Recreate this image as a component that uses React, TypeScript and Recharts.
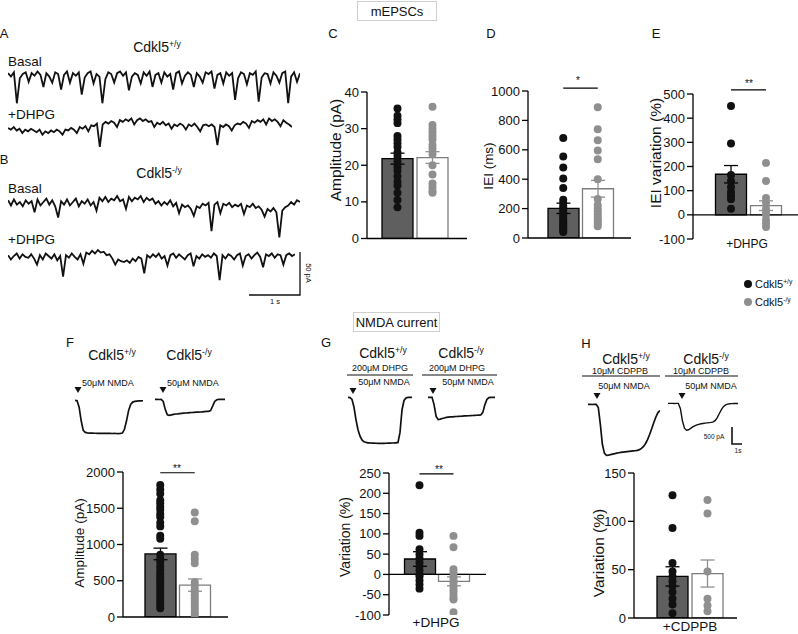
import React from 'react';
import {
  ComposedChart, Bar, ErrorBar, Scatter, XAxis, YAxis, ZAxis, ReferenceLine, LineChart, Line,
} from 'recharts';

const FONT = '"Liberation Sans", Arial, Helvetica, sans-serif';
const DARK_BAR = '#5f5f5f';
const BLACK_DOT = '#111111';
const GREY_DOT = '#8f8f8f';
const WHITE_EDGE = '#7d7d7d';

// ---- panel C: mEPSC amplitude (pA)
const ampWt = [35.5, 33.5, 32.5, 31.5, 28, 27, 26, 25, 23.5, 22.5, 21, 19.5, 18.5, 17, 15.5, 14.5, 12.5, 10.5, 8.5];
const ampKo = [36, 31, 30, 29, 28, 27, 25.5, 24.5, 23, 20, 17.5, 15, 14, 13, 12.5];
const ampMean = [21.8, 22.1];
const ampSem = [1.5, 1.6];
const ampTicks = [0, 10, 20, 30, 40];

// ---- panel D: IEI (ms)
const ieiWt = [680, 555, 480, 405, 340, 260, 240, 220, 205, 190, 175, 160, 145, 130, 115, 100, 90, 80, 70, 60, 50, 40];
const ieiKo = [890, 740, 665, 595, 535, 400, 265, 225, 200, 180, 160, 140, 125, 110, 95, 80];
const ieiMean = [202, 335];
const ieiSem = [35, 57];
const ieiTicks = [0, 200, 400, 600, 800, 1000];

// ---- panel E: IEI variation (%) +DHPG
const ieiVarWt = [450, 295, 165, 140, 115, 95, 80, 65, 25];
const ieiVarKo = [215, 140, 70, 50, 25, 10, 0, -20, -35, -50];
const ieiVarMean = [168, 38];
const ieiVarSem = [36, 20];
const ieiVarTicks = [-100, 0, 100, 200, 300, 400, 500];

// ---- panel F: NMDA amplitude (pA)
const nmdaWt = [1820, 1760, 1700, 1610, 1570, 1520, 1480, 1420, 1380, 1300, 1250, 1120, 1080, 860, 800, 760, 700, 650, 600, 560, 520, 480, 440, 400, 360, 320, 280, 240, 200, 160, 120];
const nmdaKo = [1440, 1320, 860, 800, 740, 480, 430, 380, 340, 300, 260, 220, 180, 140, 100, 60, 30];
const nmdaMean = [870, 440];
const nmdaSem = [80, 85];
const nmdaTicks = [0, 500, 1000, 1500, 2000];

// ---- panel G: variation (%) +DHPG
const dhpgWt = [220, 103, 95, 62, 50, 40, 30, 20, 10, 0, -5, -15, -25, -35];
const dhpgKo = [95, 67, 13, 5, -5, -13, -20, -27, -35, -42, -50, -58, -62, -93];
const dhpgMean = [38, -17];
const dhpgSem = [18, 11];
const dhpgTicks = [-100, -50, 0, 50, 100, 150, 200, 250];

// ---- panel H: variation (%) +CDPPB
const cdppbWt = [127, 93, 57, 48, 43, 38, 33, 27, 20, 14, 5];
const cdppbKo = [122, 108, 48, 20, 13, 7];
const cdppbMean = [43, 46];
const cdppbSem = [10, 14];
const cdppbTicks = [0, 50, 100, 150];

// ---- example traces (pA, baseline = 0)
const mepscWtBasal = [
  2, -2, 3, -33, -4, 1, 3, -8, 2, -1, 4, 0, -14, 2, -2, -9, 3, 1, -17, 0,
  4, -9, 2, -1, 3, -23, -3, 2, 4, -10, 1, -2, -33, -5, 3, 1, -9, 2, 4, -1,
  3, -18, -2, 2, 0, -10, 3, -1, 4, -14, 0, 2, -9, 3, -2, 1, -17, 2, 4, -10,
  -1, 3, 0, -14, 2, -2, -9, 3, 1, 4, -16, 0, 2, -10, 3, -1, 2, -29, -4, 3,
  1, -11, 2, 0, 4, -31, -3, 2, 1, -10, 3, -1, -9, 2, 4, -33, -2, 3, -8, 2,
];
const mepscWtDhpg = [
  0, -2, 1, -3, -1, -6, -2, -4, -1, -3, -5, -2, -8, -4, -6, -3, -5, -2, -4, -8,
  -2, -3, 0, -2, -6, 1, -1, 2, -4, 3, 2, 5, -22, 4, 7, 5, 8, 6, 1, 9,
  7, 10, 8, 11, 4, 9, 11, 8, 10, 7, 8, 1, 6, 4, 7, 3, 5, -1, 4, 2,
  5, 3, -2, 4, 2, 5, 1, -4, 3, 4, 2, 4, 1, -20, 3, 1, 4, 2, -3, 3,
  5, 4, 7, 5, 0, 8, 6, 9, 7, 10, 4, 11, 8, 10, 7, 2, 9, 6, 4, 1,
];
const mepscKoBasal = [
  3, -3, 4, -2, 1, -4, 3, -1, 2, -11, 4, -3, 1, 5, -2, 3, -4, -17, 2, -2,
  4, -3, 1, 5, -4, 2, -1, 4, -3, 1, -9, 6, 2, 7, 1, 5, 3, 8, 2, 4,
  -7, 7, 2, 6, 4, 8, 1, 6, 3, 5, -1, 2, -3, 1, -2, 3, -4, 0, -12, -2,
  -5, -3, -7, -15, -4, -6, -1, -3, 0, -33, -2, 1, -12, -1, -3, 0, -5, -2, -4, -1,
  -13, -3, -5, -1, -6, -4, -8, -16, -7, -10, -6, -11, -40, -9, -5, -3, 1, -2, 3, 1,
];
const mepscKoDhpg = [
  2, -3, 1, 4, -2, 3, 0, -1, 3, -2, -9, 2, -3, 4, 1, -2, 3, -4, 1, -23,
  2, -1, 4, 0, -3, 3, -8, 5, 3, 7, 4, 8, 5, 6, 2, 3, -2, -9, -3, -5,
  -6, -4, -7, -2, -5, 0, -2, -19, 2, -1, 3, 0, 4, -2, 1, -10, 2, 4, -1, 3,
  0, -3, 2, 4, -11, 1, -2, 3, 0, 2, -1, 4, 1, -27, 2, -2, 3, 1, -3, 2,
  4, -10, 1, 3, -2, 2, 5, 0, -12, 3, 1, 4, -1, 3, 2, -9, 2, 4, 1, 3,
];
const nmdaTraceWt = [0, -10, -200, -600, -880, -940, -955, -960, -962, -965, -966, -968, -967, -969, -970, -970, -972, -971, -973, -972, -974, -975, -972, -960, -850, -600, -300, -120, -50, -30, -20, -15, -12, -10];
const nmdaTraceKo = [0, 5, -3, 0, -60, -300, -450, -470, -455, -440, -430, -425, -418, -410, -405, -400, -395, -390, -385, -380, -375, -372, -370, -365, -360, -355, -350, -330, -200, -60, -10, 0, 3, 0, 2];
const dhpgTraceWt = [0, -5, -60, -290, -660, -950, -1140, -1250, -1305, -1325, -1335, -1340, -1343, -1345, -1348, -1350, -1349, -1351, -1350, -1348, -1347, -1345, -1342, -1340, -1336, -1325, -1030, -370, -90, -15, 0, 5, 0];
const dhpgTraceKo = [0, 4, 0, -220, -560, -650, -640, -620, -605, -590, -582, -575, -570, -566, -562, -558, -555, -550, -546, -543, -540, -536, -532, -528, -525, -520, -515, -440, -220, -60, -8, 0, 5, 3];
const cdppbTraceWt = [0, 3, -3, 0, 2, -90, -590, -1180, -1440, -1500, -1490, -1475, -1462, -1450, -1435, -1423, -1412, -1405, -1397, -1390, -1382, -1375, -1367, -1360, -1350, -1330, -1295, -1235, -1150, -1030, -880, -710, -530, -370, -240, -180];
const cdppbTraceKo = [0, 2, 0, -2, 0, 0, -150, -510, -730, -790, -775, -735, -690, -660, -630, -615, -600, -590, -580, -572, -565, -558, -545, -500, -410, -290, -175, -90, -45, -22, -12, -7, -4, -3, -2];

const AXIS_W = 44;
const M_TOP = 12;
const M_BOT = 12;
const M_RIGHT = 3;

type PanelProps = {
  x0: number; x1: number; yTop: number; yBot: number;
  domain: [number, number]; ticks: number[];
  padL: number; padR: number;
  wt: number[]; ko: number[]; mean: number[]; sem: number[];
  sigAt?: number;
};

function DotBarPanel(p: PanelProps) {
  const rows = [
    { group: 'wt', wt: p.mean[0], ko: 0, wtErr: p.sem[0] },
    { group: 'ko', wt: 0, ko: p.mean[1], koErr: p.sem[1] },
  ];
  const wtPts = p.wt.map((v) => ({ group: 'wt', v }));
  const koPts = p.ko.map((v) => ({ group: 'ko', v }));
  const width = p.x1 - p.x0 + AXIS_W + M_RIGHT;
  const height = p.yBot - p.yTop + M_TOP + M_BOT;
  return (
    <div style={{ position: 'absolute', left: p.x0 - AXIS_W, top: p.yTop - M_TOP }}>
      <ComposedChart width={width} height={height} data={rows}
        margin={{ top: M_TOP, right: M_RIGHT, bottom: M_BOT, left: 0 }}>
        <XAxis dataKey="group" type="category" hide allowDuplicatedCategory={false}
          padding={{ left: p.padL, right: p.padR }} />
        <YAxis type="number" width={AXIS_W} domain={p.domain} ticks={p.ticks} interval={0}
          allowDataOverflow tickSize={6} tickMargin={2}
          axisLine={{ stroke: '#000', strokeWidth: 1.3 }} tickLine={{ stroke: '#000', strokeWidth: 1.3 }}
          tick={{ fontSize: 13, fill: '#111', fontFamily: FONT }} />
        <ZAxis range={[50, 50]} />
        <Bar dataKey="wt" stackId="m" barSize={31} fill={DARK_BAR} stroke="#000" strokeWidth={1.3}
          isAnimationActive={false}>
          <ErrorBar dataKey="wtErr" width={7} stroke="#000" strokeWidth={1.3} />
        </Bar>
        <Bar dataKey="ko" stackId="m" barSize={31} fill="#fff" stroke={WHITE_EDGE} strokeWidth={1.3}
          isAnimationActive={false}>
          <ErrorBar dataKey="koErr" width={7} stroke={GREY_DOT} strokeWidth={1.3} />
        </Bar>
        <Scatter data={wtPts} dataKey="v" fill={BLACK_DOT} isAnimationActive={false} />
        <Scatter data={koPts} dataKey="v" fill={GREY_DOT} isAnimationActive={false} />
        <ReferenceLine y={0} stroke="#000" strokeWidth={1.3} />
        {p.sigAt !== undefined && (
          <ReferenceLine segment={[{ x: 'wt', y: p.sigAt }, { x: 'ko', y: p.sigAt }]}
            stroke="#000" strokeWidth={1.2} ifOverflow="visible" />
        )}
      </ComposedChart>
    </div>
  );
}

type TraceProps = {
  values: number[]; x0: number; x1: number; base: number;
  pxPerUnit: number; lo: number; hi: number; sw?: number;
};

function Trace({ values, x0, x1, base, pxPerUnit, lo, hi, sw = 1.4 }: TraceProps) {
  const data = values.map((v, i) => ({ i, v }));
  return (
    <div style={{ position: 'absolute', left: x0, top: base - hi * pxPerUnit }}>
      <LineChart width={x1 - x0} height={(hi - lo) * pxPerUnit} data={data}
        margin={{ top: 0, right: 0, bottom: 0, left: 0 }}>
        <XAxis dataKey="i" type="number" domain={[0, values.length - 1]} allowDataOverflow hide />
        <YAxis type="number" domain={[lo, hi]} allowDataOverflow hide />
        <Line dataKey="v" type="linear" stroke="#111" strokeWidth={sw} strokeLinejoin="miter"
          dot={false} isAnimationActive={false} />
      </LineChart>
    </div>
  );
}

type TxtProps = {
  x: number; y: number; size?: number; anchor?: 'start' | 'middle' | 'end';
  rotate?: number; children: React.ReactNode; color?: string;
};

function Txt({ x, y, size = 13, anchor = 'middle', rotate, children, color = '#111' }: TxtProps) {
  const tx = anchor === 'middle' ? -50 : anchor === 'end' ? -100 : 0;
  return (
    <div style={{
      position: 'absolute', left: x, top: y, fontSize: size, lineHeight: 1, color,
      whiteSpace: 'nowrap', transform: `translate(${tx}%, -50%)${rotate ? ` rotate(${rotate}deg)` : ''}`,
    }}>{children}</div>
  );
}

const Geno = ({ s }: { s: string }) => (
  <span>Cdkl5<span style={{ fontSize: '0.62em', verticalAlign: '0.55em', lineHeight: 0 }}>{s}</span></span>
);

const MEPSC_PX = 0.86; // px per pA (50 pA scale bar)
const NMDA_PX = 0.034; // px per pA (500 pA scale bar)

export default function App() {
  const tri = [[78, 390], [163, 390], [353, 391], [433, 391], [597, 396], [682, 396]];
  return (
    <div style={{
      position: 'absolute', left: 0, top: 0, width: 798, height: 634, overflow: 'hidden',
      background: '#fff', fontFamily: FONT, color: '#111',
    }}>
      {/* traces */}
      <Trace values={mepscWtBasal} x0={8} x1={300} base={75} pxPerUnit={MEPSC_PX} lo={-45} hi={15} sw={1.8} />
      <Trace values={mepscWtDhpg} x0={8} x1={292} base={128} pxPerUnit={MEPSC_PX} lo={-45} hi={15} sw={1.8} />
      <Trace values={mepscKoBasal} x0={8} x1={300} base={203} pxPerUnit={MEPSC_PX} lo={-45} hi={15} sw={1.8} />
      <Trace values={mepscKoDhpg} x0={8} x1={295} base={257} pxPerUnit={MEPSC_PX} lo={-45} hi={15} sw={1.8} />
      <Trace values={nmdaTraceWt} x0={75} x1={143} base={400} pxPerUnit={NMDA_PX} lo={-1600} hi={100} sw={1.7} />
      <Trace values={nmdaTraceKo} x0={155} x1={225} base={399} pxPerUnit={NMDA_PX} lo={-1600} hi={100} sw={1.7} />
      <Trace values={dhpgTraceWt} x0={348} x1={412} base={397} pxPerUnit={NMDA_PX} lo={-1600} hi={100} sw={1.7} />
      <Trace values={dhpgTraceKo} x0={428} x1={495} base={397} pxPerUnit={NMDA_PX} lo={-1600} hi={100} sw={1.7} />
      <Trace values={cdppbTraceWt} x0={588} x1={660} base={404} pxPerUnit={NMDA_PX} lo={-1600} hi={100} sw={1.7} />
      <Trace values={cdppbTraceKo} x0={668} x1={738} base={403} pxPerUnit={NMDA_PX} lo={-1600} hi={100} sw={1.4} />

      {/* bar + dot panels */}
      <DotBarPanel x0={367} x1={467} yTop={91.5} yBot={238} domain={[0, 40]} ticks={ampTicks}
        padL={13} padR={17} wt={ampWt} ko={ampKo} mean={ampMean} sem={ampSem} />
      <DotBarPanel x0={528} x1={631} yTop={91} yBot={238} domain={[0, 1000]} ticks={ieiTicks}
        padL={18} padR={16} wt={ieiWt} ko={ieiKo} mean={ieiMean} sem={ieiSem} sigAt={1020} />
      <DotBarPanel x0={693} x1={798} yTop={94} yBot={239} domain={[-100, 500]} ticks={ieiVarTicks}
        padL={20.5} padR={14.5} wt={ieiVarWt} ko={ieiVarKo} mean={ieiVarMean} sem={ieiVarSem} sigAt={517} />
      <DotBarPanel x0={123} x1={228} yTop={472} yBot={617} domain={[0, 2000]} ticks={nmdaTicks}
        padL={20} padR={16} wt={nmdaWt} ko={nmdaKo} mean={nmdaMean} sem={nmdaSem} sigAt={1990} />
      <DotBarPanel x0={389} x1={486} yTop={473} yBot={615} domain={[-100, 250]} ticks={dhpgTicks}
        padL={13.5} padR={15.5} wt={dhpgWt} ko={dhpgKo} mean={dhpgMean} sem={dhpgSem} sigAt={248} />
      <DotBarPanel x0={634} x1={737} yTop={473} yBot={618} domain={[0, 150]} ticks={cdppbTicks}
        padL={21} padR={12} wt={cdppbWt} ko={cdppbKo} mean={cdppbMean} sem={cdppbSem} />

      {/* annotations */}
      <svg width={798} height={634} style={{ position: 'absolute', left: 0, top: 0, pointerEvents: 'none' }}>
        <path d="M300 252 V295 H249" stroke="#111" strokeWidth={1.3} fill="none" />
        <path d="M732 427 V444 H742" stroke="#111" strokeWidth={1.6} fill="none" />
        <line x1={347} x2={413} y1={375} y2={375} stroke="#111" strokeWidth={1.2} />
        <line x1={422} x2={497} y1={375} y2={375} stroke="#111" strokeWidth={1.2} />
        <line x1={582} x2={660} y1={376} y2={376} stroke="#111" strokeWidth={1.2} />
        <line x1={665} x2={738} y1={376} y2={376} stroke="#111" strokeWidth={1.2} />
        {tri.map(([x, y]) => (
          <path key={`${x}-${y}`} d={`M${x - 3.5} ${y - 3} L${x + 3.5} ${y - 3} L${x} ${y + 3} Z`} fill="#111" />
        ))}
        <circle cx={748} cy={284} r={4} fill={BLACK_DOT} />
        <circle cx={748} cy={302} r={4} fill={GREY_DOT} />
      </svg>

      {/* section boxes */}
      <div style={{
        position: 'absolute', left: 357, top: 1, width: 80, height: 20, border: '1px solid #cfcfcf',
        boxSizing: 'border-box', fontSize: 13, display: 'flex', alignItems: 'center', justifyContent: 'center',
      }}>mEPSCs</div>
      <div style={{
        position: 'absolute', left: 353, top: 312, width: 87, height: 20, border: '1px solid #cfcfcf',
        boxSizing: 'border-box', fontSize: 13, display: 'flex', alignItems: 'center', justifyContent: 'center',
      }}>NMDA current</div>

      {/* panel letters */}
      <Txt x={4} y={33}>A</Txt>
      <Txt x={4} y={159}>B</Txt>
      <Txt x={333} y={33}>C</Txt>
      <Txt x={491} y={33}>D</Txt>
      <Txt x={656} y={33}>E</Txt>
      <Txt x={70} y={342}>F</Txt>
      <Txt x={326} y={342}>G</Txt>
      <Txt x={586} y={343}>H</Txt>

      {/* A / B labels */}
      <Txt x={157} y={47} size={14}><Geno s="+/y" /></Txt>
      <Txt x={159} y={173} size={14}><Geno s="-/y" /></Txt>
      <Txt x={8} y={62} size={13.5} anchor="start">Basal</Txt>
      <Txt x={8} y={115} size={13.5} anchor="start">+DHPG</Txt>
      <Txt x={8} y={189} size={13.5} anchor="start">Basal</Txt>
      <Txt x={8} y={240} size={13.5} anchor="start">+DHPG</Txt>
      <Txt x={275} y={302} size={7.5}>1 s</Txt>
      <Txt x={308} y={273} size={7.5} rotate={90}>50 pA</Txt>

      {/* y labels */}
      <Txt x={336} y={150} size={15.5} rotate={-90}>Amplitude (pA)</Txt>
      <Txt x={489} y={166} size={13.5} rotate={-90}>IEI (ms)</Txt>
      <Txt x={656} y={153} size={15.5} rotate={-90}>IEI variation (%)</Txt>
      <Txt x={80} y={543} size={13.5} rotate={-90}>Amplitude (pA)</Txt>
      <Txt x={345} y={537} size={14} rotate={-90}>Variation (%)</Txt>
      <Txt x={599} y={553} size={15.5} rotate={-90}>Variation (%)</Txt>

      {/* significance */}
      <Txt x={578} y={81} size={10}>*</Txt>
      <Txt x={749} y={84} size={10}>**</Txt>
      <Txt x={177} y={469} size={10}>**</Txt>
      <Txt x={439} y={470} size={10}>**</Txt>

      {/* treatment labels under panels */}
      <Txt x={747} y={244} size={12}>+DHPG</Txt>
      <Txt x={436} y={623} size={13.5}>+DHPG</Txt>
      <Txt x={690} y={627} size={13.5}>+CDPPB</Txt>

      {/* legend */}
      <Txt x={755} y={284} size={11} anchor="start"><Geno s="+/y" /></Txt>
      <Txt x={755} y={302} size={11} anchor="start"><Geno s="-/y" /></Txt>

      {/* NMDA trace labels */}
      <Txt x={112} y={355} size={14}><Geno s="+/y" /></Txt>
      <Txt x={189} y={355} size={14}><Geno s="-/y" /></Txt>
      <Txt x={82} y={383} size={9} anchor="start">50μM NMDA</Txt>
      <Txt x={167} y={383} size={9} anchor="start">50μM NMDA</Txt>

      <Txt x={383} y={353} size={14}><Geno s="+/y" /></Txt>
      <Txt x={461} y={353} size={14}><Geno s="-/y" /></Txt>
      <Txt x={380} y={368} size={9}>200μM DHPG</Txt>
      <Txt x={457} y={368} size={9}>200μM DHPG</Txt>
      <Txt x={384} y={382} size={9}>50μM NMDA</Txt>
      <Txt x={468} y={382} size={9}>50μM NMDA</Txt>

      <Txt x={626} y={359} size={14}><Geno s="+/y" /></Txt>
      <Txt x={706} y={359} size={14}><Geno s="-/y" /></Txt>
      <Txt x={620} y={371} size={9}>10μM CDPPB</Txt>
      <Txt x={701} y={371} size={9}>10μM CDPPB</Txt>
      <Txt x={624} y={386} size={9}>50μM NMDA</Txt>
      <Txt x={711} y={386} size={9}>50μM NMDA</Txt>
      <Txt x={714} y={437} size={6.5}>500 pA</Txt>
      <Txt x={738} y={451} size={6.5}>1s</Txt>
    </div>
  );
}
